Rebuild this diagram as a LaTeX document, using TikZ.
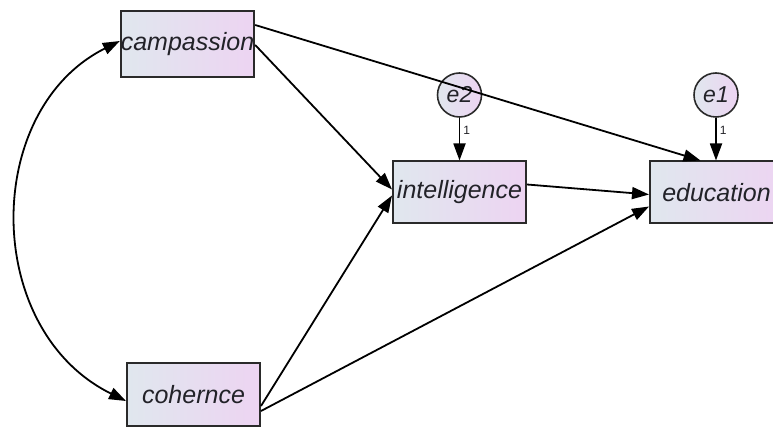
\documentclass[tikz,border=0pt]{standalone}
\usepackage{fontspec}
\setmainfont{Liberation Sans}
\usetikzlibrary{arrows.meta,shapes.geometric}
\definecolor{boxl}{HTML}{E0E7EE}
\definecolor{boxr}{HTML}{EDD4F2}
\definecolor{edge}{HTML}{2A2A2A}
\definecolor{txt}{HTML}{222228}
\tikzset{
  var/.style={rectangle, draw=edge, line width=2pt, left color=boxl, right color=boxr,
    minimum width=133pt, minimum height=62pt, inner sep=0pt,
    font=\fontsize{25}{25}\selectfont\itshape, text=txt},
  err/.style={circle, draw=edge, line width=1.6pt, left color=boxl, right color=boxr,
    minimum size=44pt, inner sep=0pt,
    font=\fontsize{23}{23}\selectfont\itshape, text=txt},
  path/.style={draw=black, line width=1.8pt, -{Triangle[length=17pt,width=12pt]}},
  cov/.style={draw=black, line width=1.8pt, {Triangle[length=17pt,width=12pt]}-{Triangle[length=17pt,width=12pt]}},
  wt/.style={font=\fontsize{12}{12}\selectfont, text=txt, inner sep=1pt}
}
\begin{document}
\begin{tikzpicture}[x=1pt,y=-1pt]
\useasboundingbox[fill=white] (0,0) rectangle (773,427);
\node[var, minimum width=124pt, minimum height=66pt] (camp) at (187.5,44) {campassion};
\node[var, minimum height=63pt] (coh) at (193.5,394.5) {cohernce};
\node[var] (int) at (459.5,192.5) {intelligence};
\node[var] (edu) at (716.5,192.5) {education};
\node[err] (e2) at (459.5,95) {e2};
\node[err] (e1) at (716,95) {e1};
% covariance
\draw[cov] ([yshift=3pt]camp.west) .. controls (-18,110) and (-18,330) .. ([yshift=-6.5pt]coh.west);
% paths
\draw[path] ([yshift=19pt]camp.east) -- ([xshift=-16pt]edu.north);
\draw[path] ([yshift=-1pt]camp.east) -- ([yshift=3pt]int.west);
\draw[path] ([yshift=-11.5pt]coh.east) -- ([yshift=-3pt]int.west);
\draw[path] ([yshift=-16.5pt]coh.east) -- ([yshift=-14pt]edu.west);
\draw[path] ([yshift=8pt]int.east) -- ([yshift=-2pt]edu.west);
\draw[path] (e2) -- (int.north) node[wt, pos=0.3, anchor=west, xshift=2pt] {1};
\draw[path] (e1) -- (edu.north -| e1) node[wt, pos=0.3, anchor=west, xshift=2pt] {1};
\end{tikzpicture}
\end{document}
